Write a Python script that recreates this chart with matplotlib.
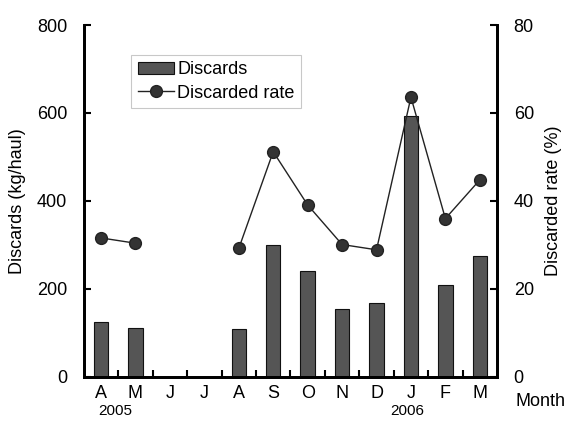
import matplotlib.pyplot as plt
import numpy as np

plt.rcParams['font.family'] = ['Liberation Sans', 'DejaVu Sans']

months = ['A', 'M', 'J', 'J', 'A', 'S', 'O', 'N', 'D', 'J', 'F', 'M']
discards = [124, 111, 0, 0, 108, 299, 240, 154, 169, 594, 209, 276]
rate = [31.6, 30.4, np.nan, np.nan, 29.2, 51.2, 39.1, 30.1, 28.9, 63.6, 36.0, 44.8]
years = ['2005', '2006']

fs = 13
fig = plt.figure(figsize=(5.7, 4.24), dpi=100)
ax = fig.add_axes([0.147, 0.111, 0.725, 0.830])
x = np.arange(len(months))

ax.bar(x, discards, 0.42, color='#555555', edgecolor='#111111', linewidth=0.8,
       label='Discards', zorder=2)
ax.set_xlim(-0.5, len(months) - 0.5)
ax.set_ylim(0, 800)
ax.set_yticks([0, 200, 400, 600, 800])
ax.set_ylabel('Discards (kg/haul)', fontsize=fs, labelpad=8)

ax2 = ax.twinx()
ax2.plot(x, rate, color='#222222', linewidth=1.0, marker='o', markersize=8.5,
         markerfacecolor='#333333', markeredgecolor='#222222', label='Discarded rate',
         zorder=3)
ax2.set_ylim(0, 80)
ax2.set_yticks([0, 20, 40, 60, 80])
ax2.set_ylabel('Discarded rate (%)', fontsize=fs, labelpad=8)

# ticks between the bars, labels at the bar centres
ax.set_xticks(x[:-1] + 0.5)
ax.set_xticklabels([])
ax.set_xticks(x, minor=True)
ax.set_xticklabels(months, minor=True, fontsize=fs)
ax.tick_params(axis='x', which='major', direction='in', length=5, width=1.5)
ax.tick_params(axis='x', which='minor', length=0, pad=6)
ax.tick_params(axis='y', direction='in', length=5, width=1.5, labelsize=fs, pad=12)
ax2.tick_params(axis='y', direction='in', length=5, width=1.5, labelsize=fs, pad=12)

for a in (ax, ax2):
    for s in a.spines.values():
        s.set_linewidth(2)
    a.spines['top'].set_visible(False)

# years under the first April and January
ax.text(0.4, -0.078, years[0], transform=ax.get_xaxis_transform(),
        ha='center', va='top', fontsize=fs - 2)
ax.text(8.9, -0.078, years[1], transform=ax.get_xaxis_transform(),
        ha='center', va='top', fontsize=fs - 2)
ax.text(12.05, -0.045, 'Month', transform=ax.get_xaxis_transform(),
        ha='left', va='top', fontsize=fs, clip_on=False)

h1, l1 = ax.get_legend_handles_labels()
h2, l2 = ax2.get_legend_handles_labels()
leg = ax2.legend(h1 + h2, l1 + l2, loc='upper left', bbox_to_anchor=(0.115, 0.915),
                 fontsize=fs, frameon=True, fancybox=False, handlelength=2.0,
                 handletextpad=0.2, borderpad=0.35, labelspacing=0.35,
                 borderaxespad=0)
leg.get_frame().set_edgecolor('#bbbbbb')
leg.get_frame().set_linewidth(0.8)

fig.savefig('out.png', dpi=100)
